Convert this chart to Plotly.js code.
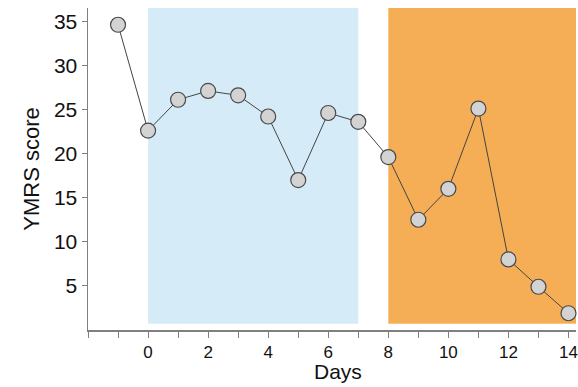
<!DOCTYPE html>
<html>
<head>
<meta charset="utf-8">
<script src="https://cdn.plot.ly/plotly-3.0.1.min.js"></script>
<style>html,body{margin:0;padding:0;background:#fff;}#chart{width:578px;height:387px;}</style>
</head>
<body>
<div id="chart"></div>
<script>
var days = [-1, 0, 1, 2, 3, 4, 5, 6, 7, 8, 9, 10, 11, 12, 13, 14];
var ymrs = [34.6, 22.6, 26.1, 27.1, 26.6, 24.2, 17.0, 24.6, 23.6, 19.6, 12.5, 16.0, 25.1, 8.0, 4.9, 1.9];
var xTickVals = [-2, -1, 0, 1, 2, 3, 4, 5, 6, 7, 8, 9, 10, 11, 12, 13, 14];
var xTickText = ['', '', '0', '', '2', '', '4', '', '6', '', '8', '', '10', '', '12', '', '14'];
var yTickVals = [5, 10, 15, 20, 25, 30, 35];
var phase1 = [0, 7];
var phase2 = [8, 14.25];

var trace = {
  x: days, y: ymrs, type: 'scatter', mode: 'lines+markers',
  line: {color: '#444444', width: 1},
  marker: {size: 15, color: '#d3d3d3', line: {color: '#4a4a4a', width: 1.2}},
  hoverinfo: 'skip', cliponaxis: false
};

var layout = {
  width: 578, height: 387,
  margin: {l: 88, r: 2, t: 8, b: 57},
  paper_bgcolor: '#ffffff', plot_bgcolor: '#ffffff',
  showlegend: false,
  font: {family: 'Liberation Sans, Arial, sans-serif', color: '#111111'},
  xaxis: {
    range: [-2, 14.25], showgrid: false, zeroline: false,
    showline: true, linecolor: '#808080', linewidth: 1.5,
    ticks: 'outside', ticklen: 6, tickcolor: '#808080', tickwidth: 1,
    tickmode: 'array', tickvals: xTickVals, ticktext: xTickText,
    tickfont: {size: 17}, ticklabeloverflow: 'allow'
  },
  yaxis: {
    range: [0, 36.5], showgrid: false, zeroline: false,
    showline: true, linecolor: '#808080', linewidth: 1.5,
    ticks: 'outside', ticklen: 5, tickcolor: '#808080', tickwidth: 1,
    tickmode: 'array', tickvals: yTickVals, ticktext: yTickVals.map(String),
    tickfont: {size: 21},
    title: {text: 'YMRS score', font: {size: 22}, standoff: 8}
  },
  annotations: [
    {text: 'Days', xref: 'paper', yref: 'paper', x: 0.512, y: -0.0916,
     xanchor: 'center', yanchor: 'top', showarrow: false, borderpad: 0, font: {size: 21}}
  ],
  shapes: [
    {type: 'rect', xref: 'x', yref: 'y', x0: phase1[0], x1: phase1[1], y0: 0.7, y1: 36.5,
     fillcolor: '#d6ebf8', line: {width: 0}, layer: 'below'},
    {type: 'rect', xref: 'x', yref: 'y', x0: phase2[0], x1: phase2[1], y0: 0.7, y1: 36.5,
     fillcolor: '#f6ae56', line: {width: 0}, layer: 'below'}
  ]
};

Plotly.newPlot('chart', [trace], layout, {staticPlot: true, displayModeBar: false});
</script>
</body>
</html>
